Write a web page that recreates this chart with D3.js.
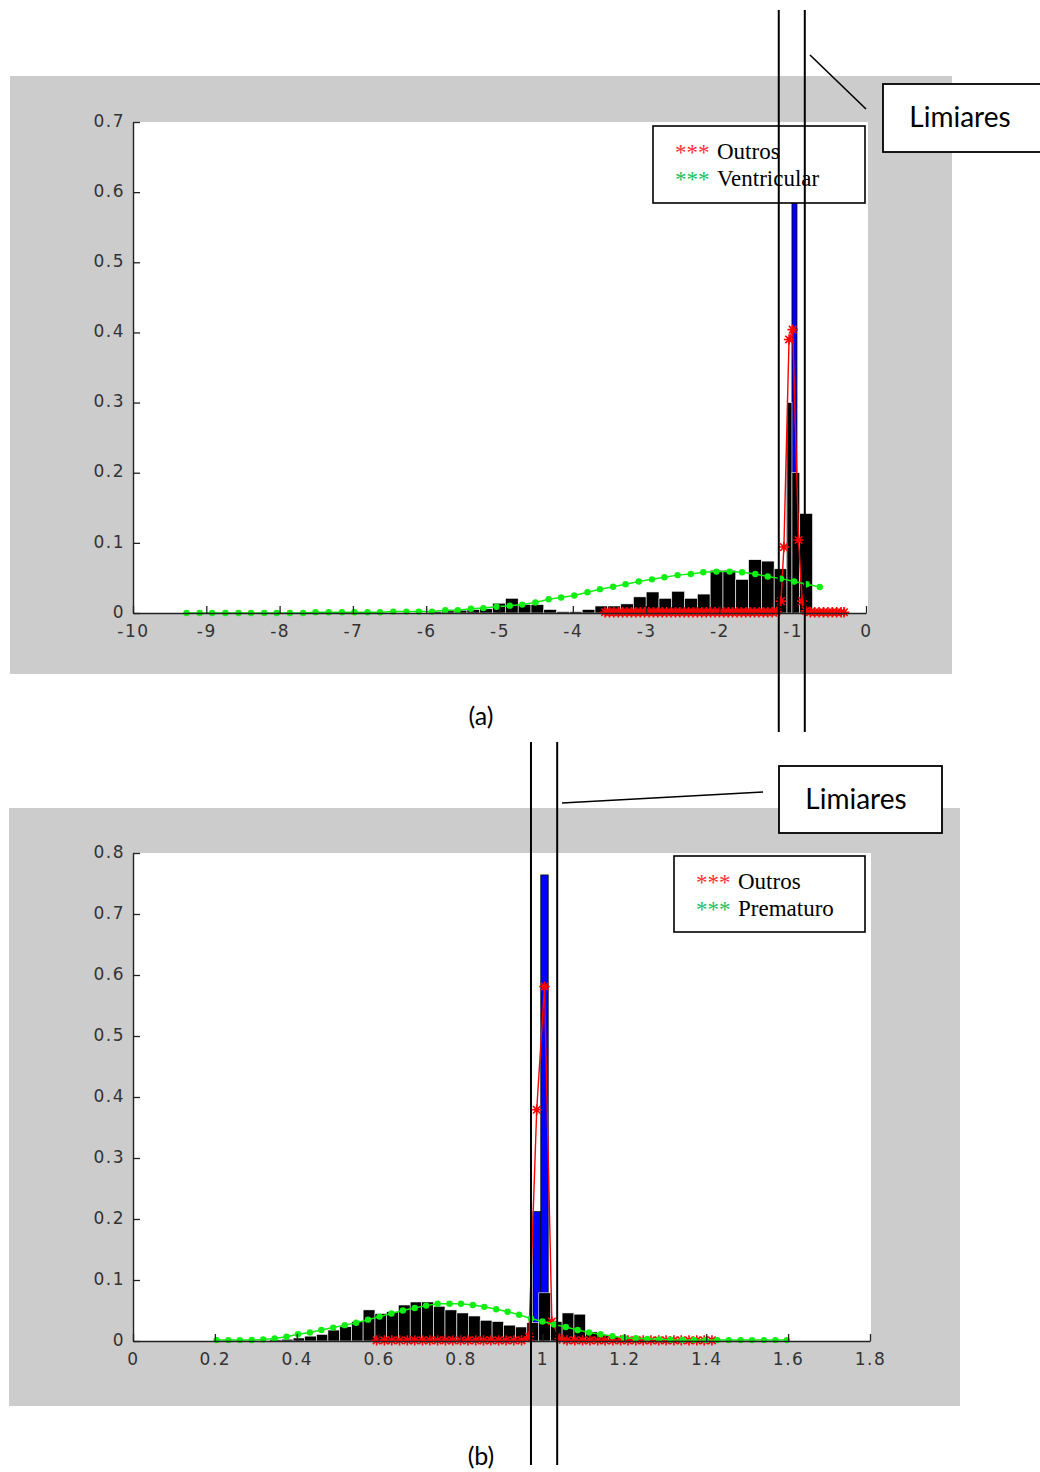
<!DOCTYPE html>
<html>
<head>
<meta charset="utf-8">
<script src="https://cdn.jsdelivr.net/npm/d3@7"></script>
<style>
  body { margin: 0; background: #fff; }
</style>
</head>
<body>
<svg id="fig" width="1040" height="1472"></svg>
<script>
// ---- panel (a) data ----
const aXTicks = [-10, -9, -8, -7, -6, -5, -4, -3, -2, -1, 0];
const aYTicks = [0, 0.1, 0.2, 0.3, 0.4, 0.5, 0.6, 0.7];
const aBlackEdges = [-5.967, -5.793, -5.618, -5.443, -5.269, -5.094, -4.919, -4.745, -4.570, -4.396,
  -4.221, -4.046, -3.872, -3.697, -3.523, -3.348, -3.174, -2.999, -2.824, -2.650, -2.475, -2.301,
  -2.126, -1.951, -1.777, -1.602, -1.427, -1.253, -1.078, -1.010, -0.904, -0.729];
const aBlackHeights = [0.002, 0.003, 0.004, 0.005, 0.006, 0.014, 0.021, 0.012, 0.012, 0.005,
  0.002, 0.002, 0.005, 0.010, 0.010, 0.013, 0.023, 0.030, 0.021, 0.031, 0.021,
  0.027, 0.061, 0.061, 0.048, 0.076, 0.074, 0.063, 0.30, 0.20, 0.142];
const aBlueEdges = [-1.078, -1.010, -0.942, -0.874];
const aBlueHeights = [0.24, 0.65, 0.03];
const aRedX = [-3.56, -3.50, -3.44, -3.38, -3.32, -3.26, -3.20, -3.14, -3.08, -3.02, -2.96, -2.90,
  -2.84, -2.78, -2.72, -2.66, -2.60, -2.54, -2.48, -2.42, -2.36, -2.30, -2.24, -2.18, -2.12, -2.06,
  -2.00, -1.94, -1.88, -1.82, -1.76, -1.70, -1.64, -1.58, -1.52, -1.46, -1.40, -1.34, -1.28, -1.22,
  -1.16, -1.12, -1.05, -1.00, -0.92, -0.87, -0.82, -0.76, -0.70, -0.64, -0.58, -0.52, -0.46, -0.40,
  -0.34, -0.30];
const aRedY = [0.001, 0.001, 0.001, 0.001, 0.001, 0.001, 0.001, 0.001, 0.001, 0.001, 0.001, 0.001,
  0.001, 0.001, 0.001, 0.001, 0.001, 0.001, 0.001, 0.001, 0.001, 0.001, 0.001, 0.001, 0.001, 0.001,
  0.001, 0.001, 0.001, 0.001, 0.001, 0.001, 0.001, 0.001, 0.001, 0.001, 0.001, 0.001, 0.001, 0.002,
  0.017, 0.094, 0.390, 0.404, 0.104, 0.017, 0.003, 0.001, 0.001, 0.001, 0.001, 0.001, 0.001, 0.001,
  0.001, 0.001];
const aGreenX = [-9.27, -9.09, -8.92, -8.74, -8.56, -8.39, -8.21, -8.04, -7.86, -7.68, -7.51, -7.33,
  -7.15, -6.98, -6.80, -6.63, -6.45, -6.27, -6.10, -5.92, -5.74, -5.57, -5.39, -5.22, -5.04, -4.86,
  -4.69, -4.51, -4.33, -4.16, -3.98, -3.80, -3.63, -3.45, -3.28, -3.10, -2.92, -2.75, -2.57, -2.39,
  -2.22, -2.04, -1.86, -1.69, -1.51, -1.34, -1.16, -0.98, -0.81, -0.63];
const aGreenY = [0, 0, 0, 0, 0, 0, 0, 0, 0, 0, 0.001, 0.001,
  0.001, 0.001, 0.001, 0.001, 0.002, 0.002, 0.002, 0.002, 0.004, 0.004, 0.006, 0.007, 0.009, 0.0105,
  0.012, 0.015, 0.0195, 0.022, 0.025, 0.0295, 0.034, 0.0375, 0.041, 0.045, 0.048, 0.051, 0.054, 0.0556,
  0.058, 0.059, 0.059, 0.058, 0.0556, 0.052, 0.049, 0.045, 0.041, 0.037];
const aThresholds = [-1.19, -0.835];
const aLegend = ["Outros", "Ventricular"];

// ---- panel (b) data ----
const bXTicks = [0, 0.2, 0.4, 0.6, 0.8, 1, 1.2, 1.4, 1.6, 1.8];
const bYTicks = [0, 0.1, 0.2, 0.3, 0.4, 0.5, 0.6, 0.7, 0.8];
const bBlackEdges = [0.248, 0.276, 0.305, 0.333, 0.362, 0.391, 0.419, 0.448, 0.476, 0.505, 0.534,
  0.562, 0.591, 0.619, 0.648, 0.677, 0.705, 0.734, 0.762, 0.791, 0.819, 0.848, 0.877, 0.905, 0.934,
  0.962, 0.991, 1.020, 1.048, 1.077, 1.105, 1.134, 1.162, 1.191, 1.220, 1.248, 1.277, 1.305, 1.334,
  1.363, 1.391];
const bBlackHeights = [0.001, 0.001, 0.001, 0.002, 0.003, 0.005, 0.008, 0.011, 0.018, 0.0235, 0.032,
  0.051, 0.045, 0.048, 0.059, 0.064, 0.064, 0.057, 0.051, 0.046, 0.041, 0.034, 0.032, 0.026, 0.023,
  0.030, 0.079, 0.032, 0.046, 0.044, 0.015, 0.010, 0.006, 0.004, 0.003, 0.002, 0.002, 0.001, 0.001,
  0.001];
const bBlueEdges = [0.958, 0.977, 0.996, 1.014, 1.033];
const bBlueHeights = [0.004, 0.212, 0.764, 0.01];
const bRedX = [0.595, 0.614, 0.632, 0.651, 0.670, 0.688, 0.707, 0.725, 0.744, 0.763, 0.781, 0.800,
  0.818, 0.837, 0.856, 0.874, 0.893, 0.911, 0.930, 0.949, 0.967, 0.986, 1.005, 1.023, 1.042, 1.060,
  1.079, 1.098, 1.116, 1.135, 1.153, 1.172, 1.191, 1.209, 1.228, 1.246, 1.265, 1.284, 1.302, 1.321,
  1.339, 1.358, 1.377, 1.395, 1.414];
const bRedY = [0.001, 0.001, 0.001, 0.001, 0.001, 0.001, 0.001, 0.001, 0.001, 0.001, 0.001, 0.001,
  0.001, 0.001, 0.001, 0.001, 0.001, 0.001, 0.001, 0.001, 0.007, 0.379, 0.581, 0.032, 0.004, 0.001,
  0.001, 0.001, 0.001, 0.001, 0.001, 0.001, 0.001, 0.001, 0.001, 0.001, 0.001, 0.001, 0.001, 0.001,
  0.001, 0.001, 0.001, 0.001, 0.001];
const bGreenX = [0.204, 0.233, 0.261, 0.290, 0.318, 0.346, 0.375, 0.403, 0.432, 0.460, 0.489, 0.517,
  0.545, 0.574, 0.602, 0.631, 0.659, 0.688, 0.716, 0.744, 0.773, 0.801, 0.830, 0.858, 0.887, 0.915,
  0.943, 0.972, 1.000, 1.029, 1.057, 1.086, 1.114, 1.142, 1.171, 1.199, 1.228, 1.256, 1.285, 1.313,
  1.342, 1.370, 1.398, 1.427, 1.455, 1.484, 1.512, 1.541, 1.569, 1.597];
const bGreenY = [0.0015, 0.0015, 0.0015, 0.0016, 0.0025, 0.004, 0.007, 0.011, 0.014, 0.018, 0.022,
  0.026, 0.030, 0.035, 0.040, 0.045, 0.050, 0.054, 0.058, 0.061, 0.061, 0.061, 0.059, 0.056, 0.052,
  0.048, 0.043, 0.037, 0.032, 0.027, 0.023, 0.018, 0.014, 0.011, 0.008, 0.0055, 0.0045, 0.0035,
  0.0027, 0.002, 0.0018, 0.0016, 0.0015, 0.0015, 0.0015, 0.0015, 0.0015, 0.0015, 0.0015, 0.0015];
const bThresholds = [0.972, 1.036];
const bLegend = ["Outros", "Prematuro"];

const svg = d3.select("#fig");

function starPath(r) {
  const d = r * 0.72;
  return `M${-r},0H${r}M0,${-r}V${r}M${-d},${-d}L${d},${d}M${-d},${d}L${d},${-d}`;
}

function bins(edges, heights) {
  return heights.map((h, i) => ({ x0: edges[i], x1: edges[i + 1], h: h }));
}

function drawPanel(p) {
  const x = d3.scaleLinear().domain(p.xDomain).range([p.left, p.right]);
  const y = d3.scaleLinear().domain(p.yDomain).range([p.bottom, p.top]);

  // grey figure + white axes
  svg.append("rect").attr("x", p.fig[0]).attr("y", p.fig[1])
    .attr("width", p.fig[2] - p.fig[0]).attr("height", p.fig[3] - p.fig[1]).attr("fill", "#cccccc");
  svg.append("rect").attr("x", p.left).attr("y", p.top)
    .attr("width", p.whiteRight - p.left).attr("height", p.bottom - p.top).attr("fill", "#fff");

  const g = svg.append("g");

  g.selectAll("rect.blue").data(bins(p.blueEdges, p.blueHeights)).join("rect")
    .attr("class", "blue")
    .attr("x", d => x(d.x0)).attr("width", d => x(d.x1) - x(d.x0))
    .attr("y", d => y(d.h)).attr("height", d => y(0) - y(d.h))
    .attr("fill", "#0000ff").attr("stroke", "#000").attr("stroke-width", 0.8);

  g.selectAll("rect.black").data(bins(p.blackEdges, p.blackHeights)).join("rect")
    .attr("class", "black")
    .attr("x", d => x(d.x0)).attr("width", d => x(d.x1) - x(d.x0))
    .attr("y", d => y(d.h)).attr("height", d => y(0) - y(d.h))
    .attr("fill", "#000").attr("stroke", "#fff").attr("stroke-width", 0.6);

  const red = p.redX.map((v, i) => [v, p.redY[i]]);
  g.append("path").datum(red)
    .attr("d", d3.line().x(d => x(d[0])).y(d => y(d[1])))
    .attr("fill", "none").attr("stroke", "#ff0000").attr("stroke-width", 1.4);
  g.selectAll("path.star").data(red).join("path")
    .attr("class", "star")
    .attr("transform", d => `translate(${x(d[0])},${y(d[1])})`)
    .attr("d", starPath(5.2))
    .attr("stroke", "#ff0000").attr("stroke-width", 1.6).attr("fill", "none");

  const green = p.greenX.map((v, i) => [v, p.greenY[i]]);
  g.append("path").datum(green)
    .attr("d", d3.line().x(d => x(d[0])).y(d => y(d[1])))
    .attr("fill", "none").attr("stroke", "#11ee11").attr("stroke-width", 1.5);
  g.selectAll("circle.dot").data(green).join("circle")
    .attr("class", "dot")
    .attr("cx", d => x(d[0])).attr("cy", d => y(d[1])).attr("r", 3.2)
    .attr("fill", "#11ee11");

  // axes
  const xAxis = svg.append("g").attr("transform", `translate(0,${p.bottom})`)
    .call(d3.axisBottom(x).tickValues(p.xTicks).tickFormat(d => String(d))
      .tickSize(-7).tickSizeOuter(0).tickPadding(12));
  const yAxis = svg.append("g").attr("transform", `translate(${p.left},0)`)
    .call(d3.axisLeft(y).tickValues(p.yTicks).tickFormat(d => String(d))
      .tickSize(-7).tickSizeOuter(0).tickPadding(8));
  yAxis.selectAll("text").attr("dy", "0.25em");
  [xAxis, yAxis].forEach(a => {
    a.selectAll("path.domain").attr("stroke", "#222").attr("stroke-width", 1.4);
    a.selectAll(".tick line").attr("stroke", "#222").attr("stroke-width", 1.3);
    a.selectAll("text").attr("font-family", "DejaVu Sans").attr("font-size", 17)
      .attr("letter-spacing", 1.5).attr("fill", "#333");
  });

  // legend
  const lg = svg.append("g");
  lg.append("rect").attr("x", p.legend[0]).attr("y", p.legend[1])
    .attr("width", p.legend[2] - p.legend[0]).attr("height", p.legend[3] - p.legend[1])
    .attr("fill", "#fff").attr("stroke", "#000").attr("stroke-width", 1.6);
  const lcol = ["#ff3030", "#20c060"];
  p.legendNames.forEach((name, i) => {
    const by = p.legend[1] + 33 + i * 27;
    lg.append("text").attr("x", p.legend[0] + 22).attr("y", by + 1)
      .attr("font-family", "Liberation Serif").attr("font-size", 23).attr("fill", lcol[i])
      .text("***");
    lg.append("text").attr("x", p.legend[0] + 64).attr("y", by)
      .attr("font-family", "Liberation Serif").attr("font-size", 23).attr("fill", "#000")
      .text(name);
  });

  // threshold lines
  svg.selectAll(null).data(p.thresholds).join("line")
    .attr("x1", d => x(d)).attr("x2", d => x(d))
    .attr("y1", p.thrY[0]).attr("y2", p.thrY[1])
    .attr("stroke", "#000").attr("stroke-width", 2);

  // callout
  svg.append("line").attr("x1", p.callLine[0]).attr("y1", p.callLine[1])
    .attr("x2", p.callLine[2]).attr("y2", p.callLine[3])
    .attr("stroke", "#000").attr("stroke-width", 1.6);
  svg.append("rect").attr("x", p.callBox[0]).attr("y", p.callBox[1])
    .attr("width", p.callBox[2] - p.callBox[0]).attr("height", p.callBox[3] - p.callBox[1])
    .attr("fill", "#fff").attr("stroke", "#000").attr("stroke-width", 1.8);
  svg.append("text").attr("x", p.callText[0]).attr("y", p.callText[1])
    .attr("text-anchor", "middle").attr("font-family", "Lato").attr("font-size", 28)
    .attr("fill", "#000").text("Limiares");

  svg.append("text").attr("x", 481).attr("y", p.captionY)
    .attr("text-anchor", "middle").attr("font-family", "Lato").attr("font-size", 25)
    .attr("fill", "#000").text(p.caption);
}

drawPanel({
  xDomain: [-10, 0], yDomain: [0, 0.7],
  left: 133, right: 866, top: 122, bottom: 613, whiteRight: 868,
  fig: [10, 76, 952, 674],
  xTicks: aXTicks, yTicks: aYTicks,
  blackEdges: aBlackEdges, blackHeights: aBlackHeights,
  blueEdges: aBlueEdges, blueHeights: aBlueHeights,
  redX: aRedX, redY: aRedY, greenX: aGreenX, greenY: aGreenY,
  legend: [653, 126, 865, 203], legendNames: aLegend,
  thresholds: aThresholds, thrY: [10, 732],
  callLine: [810, 55, 866, 109], callBox: [883, 84, 1046, 152], callText: [960, 127],
  caption: "(a)", captionY: 725
});

drawPanel({
  xDomain: [0, 1.8], yDomain: [0, 0.8],
  left: 133, right: 870, top: 853, bottom: 1341, whiteRight: 871,
  fig: [9, 808, 960, 1406],
  xTicks: bXTicks, yTicks: bYTicks,
  blackEdges: bBlackEdges, blackHeights: bBlackHeights,
  blueEdges: bBlueEdges, blueHeights: bBlueHeights,
  redX: bRedX, redY: bRedY, greenX: bGreenX, greenY: bGreenY,
  legend: [674, 856, 865, 932], legendNames: bLegend,
  thresholds: bThresholds, thrY: [742, 1465],
  callLine: [562, 803, 763, 792], callBox: [779, 766, 942, 833], callText: [856, 809],
  caption: "(b)", captionY: 1465
});
</script>
</body>
</html>
